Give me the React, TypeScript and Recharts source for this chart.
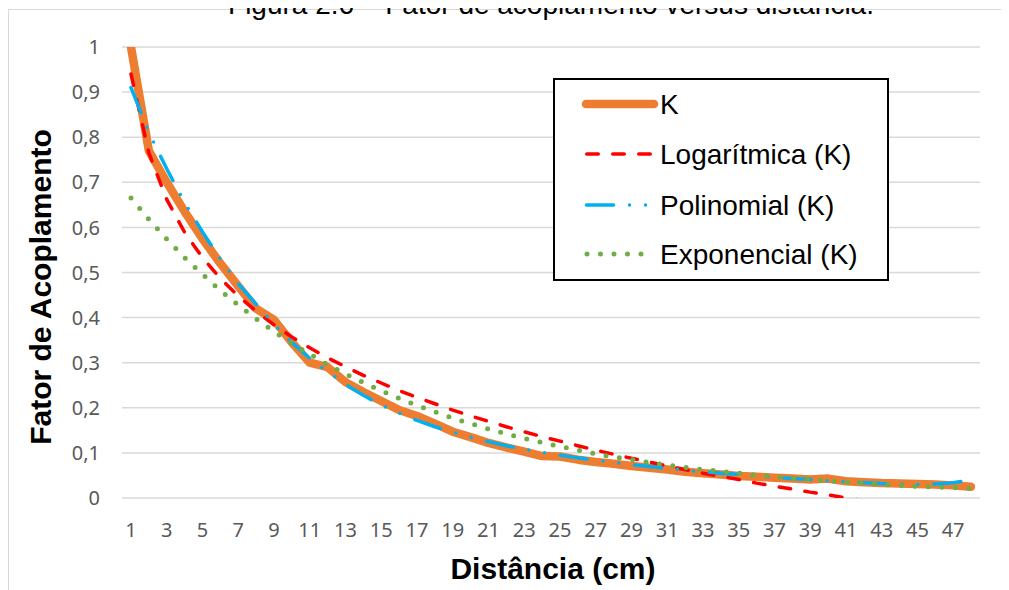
import { LineChart, Line, XAxis, YAxis, CartesianGrid, Legend } from "recharts";

// distance in cm (categories on the x axis)
const distances = [
  1, 2, 3, 4, 5, 6, 7, 8, 9, 10, 11, 12, 13, 14, 15, 16, 17, 18, 19, 20, 21, 22, 23, 24,
  25, 26, 27, 28, 29, 30, 31, 32, 33, 34, 35, 36, 37, 38, 39, 40, 41, 42, 43, 44, 45, 46, 47, 48,
];

// measured coupling factor K
const kValues = [
  1.0, 0.77, 0.7, 0.635, 0.575, 0.52, 0.47, 0.42, 0.395, 0.345, 0.3, 0.29, 0.257, 0.235, 0.215, 0.195,
  0.182, 0.165, 0.147, 0.135, 0.122, 0.112, 0.103, 0.093, 0.092, 0.085, 0.08, 0.076, 0.071, 0.067, 0.063, 0.058,
  0.055, 0.052, 0.049, 0.047, 0.045, 0.043, 0.041, 0.043, 0.037, 0.035, 0.033, 0.032, 0.031, 0.03, 0.028, 0.025,
];

// trend lines
const logTrend = [
  0.94, 0.765, 0.662, 0.589, 0.533, 0.487, 0.448, 0.414, 0.384, 0.357, 0.333, 0.311, 0.291, 0.272, 0.255, 0.238,
  0.223, 0.209, 0.195, 0.182, 0.17, 0.158, 0.147, 0.136, 0.126, 0.116, 0.106, 0.097, 0.088, 0.08, 0.071, 0.063,
  0.055, 0.048, 0.041, 0.033, 0.026, 0.02, 0.013, 0.007, 0.0, -0.006, null, null, null, null, null, null,
];

const polyTrend = [
  0.91, 0.81, 0.73, 0.655, 0.59, 0.53, 0.475, 0.43, 0.385, 0.345, 0.31, 0.28, 0.252, 0.228, 0.206, 0.188,
  0.172, 0.158, 0.146, 0.135, 0.125, 0.116, 0.108, 0.101, 0.095, 0.089, 0.084, 0.079, 0.074, 0.07, 0.066, 0.062,
  0.058, 0.055, 0.052, 0.049, 0.046, 0.043, 0.041, 0.038, 0.036, 0.034, 0.032, 0.031, 0.03, 0.031, 0.034, 0.04,
];

const expTrend = [
  0.665, 0.618, 0.574, 0.533, 0.496, 0.46, 0.428, 0.397, 0.369, 0.343, 0.319, 0.296, 0.275, 0.256, 0.238, 0.221,
  0.205, 0.191, 0.177, 0.165, 0.153, 0.142, 0.132, 0.123, 0.114, 0.106, 0.098, 0.091, 0.085, 0.079, 0.073, 0.068,
  0.063, 0.059, 0.055, 0.051, 0.047, 0.044, 0.041, 0.038, 0.035, 0.033, 0.03, 0.028, 0.026, 0.024, 0.023, 0.021,
];

const yTicks = [0, 0.1, 0.2, 0.3, 0.4, 0.5, 0.6, 0.7, 0.8, 0.9, 1];

const rows = distances.map((d, i) => ({
  d,
  k: kValues[i],
  log: logTrend[i],
  poly: polyTrend[i],
  exp: expTrend[i],
}));

const ARIAL = '"Liberation Sans", Arial, sans-serif';
const TICK_FONT = '"Noto Sans", sans-serif';

const fmtY = (v: number) => (v === 0 ? "0" : v === 1 ? "1" : v.toFixed(1).replace(".", ","));

// legend rows (y = row centre inside the box)
const legendRows = [
  { label: "K", y: 26, x1: 33, x2: 101, color: "#ED7D31", w: 8.5, dash: undefined },
  { label: "Logarítmica (K)", y: 76, x1: 33.75, x2: 99, color: "#FF0000", w: 3.5, dash: "11.5 14.5" },
  { label: "Polinomial (K)", y: 127, x1: 33.5, x2: 94, color: "#00B0F0", w: 3.5, dash: "27 16 0 16 0 16" },
  { label: "Exponencial (K)", y: 176, x1: 34, x2: 89, color: "#70AD47", w: 5, dash: "0 13.5" },
];

function LegendBox() {
  return (
    <svg width={336} height={203} style={{ display: "block" }}>
      <rect x={1} y={1} width={334} height={201} fill="#fff" stroke="#000" strokeWidth={2} />
      {legendRows.map((r) => (
        <g key={r.label}>
          <line
            x1={r.x1}
            x2={r.x2}
            y1={r.y}
            y2={r.y}
            stroke={r.color}
            strokeWidth={r.w}
            strokeLinecap="round"
            strokeDasharray={r.dash}
          />
          <text x={107} y={r.y + 10} fontFamily={ARIAL} fontSize={28} fill="#000">
            {r.label}
          </text>
        </g>
      ))}
    </svg>
  );
}

export default function App() {
  return (
    <div style={{ position: "relative", width: 1001, height: 582 }}>
      <div style={{ position: "absolute", left: 0, top: 0, width: 1001, height: 582, overflow: "hidden" }}>
        <div
          style={{
            position: "absolute",
            left: 0,
            top: 1,
            width: 1200,
            height: 800,
            borderLeft: "1px solid #d9d9d9",
            borderTop: "1px solid #d9d9d9",
          }}
        />
      </div>

      <LineChart
        width={1001}
        height={582}
        data={rows}
        margin={{ top: 39, right: 29, bottom: 52, left: 54 }}
        style={{ position: "absolute", left: 0, top: 0 }}
      >
        <CartesianGrid vertical={false} stroke="#d9d9d9" strokeWidth={1.5} />
        <XAxis
          dataKey="d"
          interval={1}
          padding={{ left: 9, right: 9 }}
          axisLine={false}
          tickLine={false}
          tickSize={0}
          tickMargin={25}
          height={40}
          tick={{ fill: "#595959", fontSize: 20, fontFamily: TICK_FONT }}
        />
        <YAxis
          type="number"
          domain={[0, 1]}
          ticks={yTicks}
          allowDataOverflow
          axisLine={false}
          tickLine={false}
          tickSize={0}
          tickMargin={22}
          width={60}
          tickFormatter={fmtY}
          tick={{ fill: "#595959", fontSize: 20, fontFamily: TICK_FONT }}
        />
        <Legend
          layout="vertical"
          align="center"
          verticalAlign="middle"
          content={() => <LegendBox />}
          wrapperStyle={{ left: 545, top: 70, width: 336, height: 203 }}
        />
        <Line
          dataKey="k"
          type="linear"
          stroke="#ED7D31"
          strokeWidth={8.5}
          strokeLinecap="round"
          strokeLinejoin="round"
          dot={false}
          activeDot={false}
          isAnimationActive={false}
        />
        <Line
          dataKey="log"
          type="linear"
          stroke="#FF0000"
          strokeWidth={3.5}
          strokeLinecap="round"
          strokeDasharray="11.5 14.5"
          dot={false}
          activeDot={false}
          isAnimationActive={false}
        />
        <Line
          dataKey="poly"
          type="linear"
          stroke="#00B0F0"
          strokeWidth={3.5}
          strokeLinecap="round"
          strokeDasharray="27 16 0 16 0 16"
          dot={false}
          activeDot={false}
          isAnimationActive={false}
        />
        <Line
          dataKey="exp"
          type="linear"
          stroke="#70AD47"
          strokeWidth={5}
          strokeLinecap="round"
          strokeDasharray="0 13.5"
          dot={false}
          activeDot={false}
          isAnimationActive={false}
        />
      </LineChart>

      <svg
        width={1009}
        height={590}
        style={{ position: "absolute", left: -8, top: -8, pointerEvents: "none" }}
      >
        <text x={551} y={14} textAnchor="middle" fontFamily={ARIAL} fontSize={28} fill="#000">
          Figura 2.6 – Fator de acoplamento versus distância.
        </text>
        <text x={553} y={579} textAnchor="middle" fontFamily={ARIAL} fontSize={30} fontWeight="bold" fill="#000">
          Distância (cm)
        </text>
        <text
          transform="translate(51, 287) rotate(-90)"
          textAnchor="middle"
          fontFamily={ARIAL}
          fontSize={30}
          fontWeight="bold"
          fill="#000"
        >
          Fator de Acoplamento
        </text>
      </svg>
    </div>
  );
}
